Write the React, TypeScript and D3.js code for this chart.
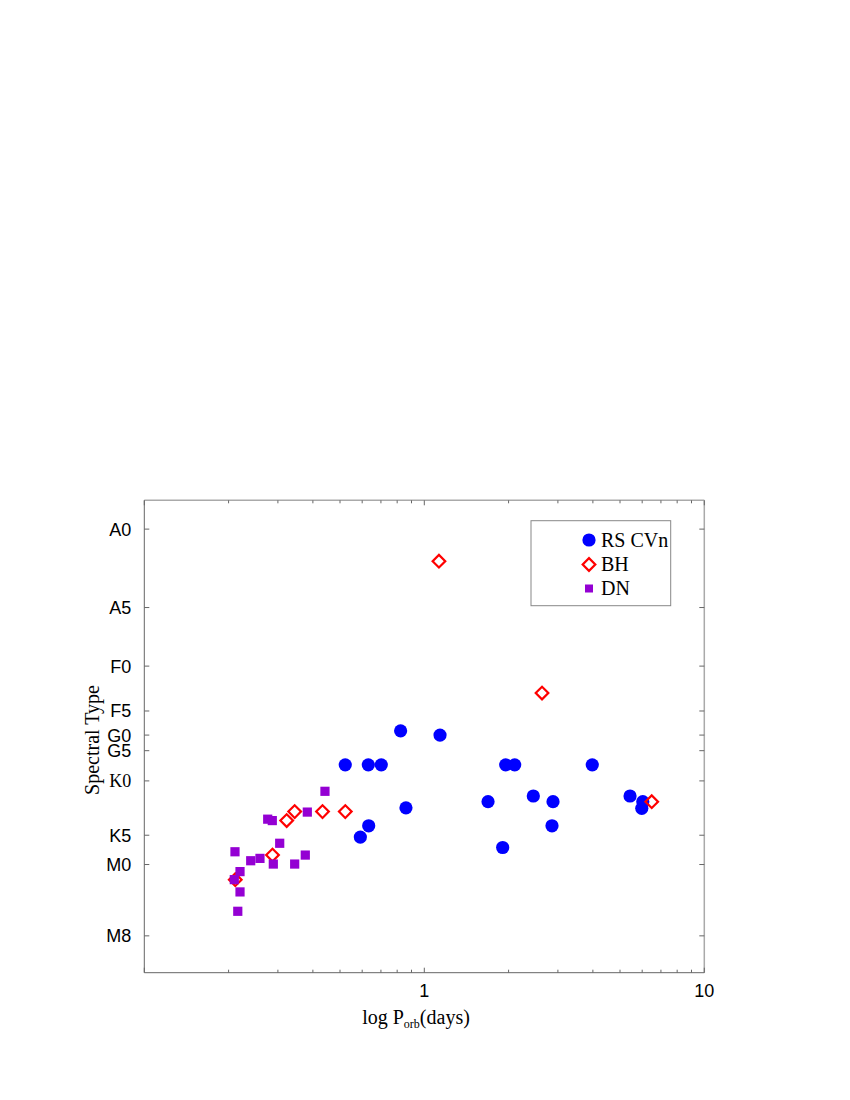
import React from 'react';
import * as d3 from 'd3';

// spectral type ticks, on an ordinate scale (0 = top of frame, 100 = bottom)
const specLabels = ['A0', 'A5', 'F0', 'F5', 'G0', 'G5', 'K0', 'K5', 'M0', 'M8'];
const specValues = [6.1, 22.7, 35.1, 44.6, 49.7, 53.0, 59.4, 70.9, 77.1, 92.2];

// RS CVn: orbital period (days), spectral ordinate
const rsPeriod = [0.823, 1.138, 0.522, 0.631, 0.702, 0.86, 0.633, 0.591, 1.953, 2.103,
  3.98, 1.689, 2.451, 2.882, 2.858, 1.905, 5.43, 6.03, 5.98];
const rsSpec = [48.8, 49.7, 56.0, 56.0, 56.0, 65.1, 68.9, 71.3, 56.0, 56.0,
  56.0, 63.8, 62.6, 63.8, 68.9, 73.5, 62.6, 63.8, 65.2];

// BH
const bhPeriod = [1.128, 2.633, 6.49, 0.2113, 0.287, 0.3225, 0.3444, 0.433, 0.5222];
const bhSpec = [12.9, 40.8, 63.8, 80.3, 75.1, 67.8, 65.9, 65.9, 65.9];

// DN
const dnPeriod = [0.4418, 0.3821, 0.2759, 0.2865, 0.3045, 0.2108, 0.2399, 0.2589,
  0.2889, 0.3444, 0.3758, 0.2197, 0.2096, 0.2197, 0.2157];
const dnSpec = [61.6, 66.0, 67.5, 67.8, 72.6, 74.4, 76.3, 75.8, 77.0, 77.0,
  75.1, 78.6, 80.3, 82.9, 87.0];

const legendLabels = ['RS CVn', 'BH', 'DN'];

const SERIF = '"Liberation Serif", "Times New Roman", serif';
const SANS = '"Liberation Sans", Arial, sans-serif';

export default function App() {
  const left = 144.3, right = 704.3, top = 500.3, bottom = 972.7;

  const x = d3.scaleLog().domain([0.1, 10]).range([left, right]);
  const y = d3.scaleLinear().domain([0, 100]).range([top, bottom]);

  const xTicks = x.ticks();
  const isMajor = (t: number) => Math.abs(Math.log10(t) - Math.round(Math.log10(t))) < 1e-9;

  const diamond = d3.symbol(d3.symbolSquare, 80)();
  const legendDiamond = d3.symbol(d3.symbolSquare, 80)();

  return (
    <svg width={850} height={1100} style={{ position: 'absolute', left: 0, top: 0 }}>
      <rect width={850} height={1100} fill="white" />

      {/* frame */}
      <line x1={left} x2={right} y1={top} y2={top} stroke="#aaa" strokeWidth={1.5} />
      <line x1={right} x2={right} y1={top} y2={bottom} stroke="#aaa" strokeWidth={1.5} />
      <line x1={left} x2={left} y1={top} y2={bottom} stroke="#666" strokeWidth={1} />
      <line x1={left} x2={right} y1={bottom} y2={bottom} stroke="#666" strokeWidth={1} />

      {/* x ticks, top and bottom */}
      {xTicks.map((t, i) => {
        const len = isMajor(t) ? 5 : 3;
        return (
          <g key={'xt' + i}>
            <line x1={x(t)} x2={x(t)} y1={bottom} y2={bottom - len} stroke="#666" />
            <line x1={x(t)} x2={x(t)} y1={top} y2={top + len} stroke="#666" />
          </g>
        );
      })}
      {[1, 10].map(t => (
        <text key={'xl' + t} x={x(t)} y={997} textAnchor="middle"
          fontFamily={SANS} fontSize={18} fill="#000">{t}</text>
      ))}

      {/* y ticks, left and right */}
      {specValues.map((v, i) => (
        <g key={'yt' + i}>
          <line x1={left} x2={left + 5} y1={y(v)} y2={y(v)} stroke="#666" />
          <line x1={right} x2={right - 5} y1={y(v)} y2={y(v)} stroke="#666" />
          <text x={left - 13} y={y(v)} dy="0.36em" textAnchor="end"
            fontFamily={specLabels[i] === 'K0' ? SERIF : SANS} fontSize={18} fill="#000">
            {specLabels[i]}
          </text>
        </g>
      ))}

      {/* axis titles */}
      <text transform="translate(99,740) rotate(-90)" textAnchor="middle"
        fontFamily={SERIF} fontSize={20} fill="#000">Spectral Type</text>
      <text x={416} y={1024} textAnchor="middle" fontFamily={SERIF} fontSize={20} fill="#000">
        log P<tspan fontSize={12} dy={4}>orb</tspan><tspan dy={-4}>(days)</tspan>
      </text>

      {/* RS CVn */}
      {rsPeriod.map((p, i) => (
        <circle key={'rs' + i} cx={x(p)} cy={y(rsSpec[i])} r={6.6} fill="#0000ff" />
      ))}

      {/* BH */}
      {bhPeriod.map((p, i) => (
        <path key={'bh' + i} d={diamond}
          transform={`translate(${x(p)},${y(bhSpec[i])}) rotate(45)`}
          fill="none" stroke="#ff0000" strokeWidth={2.2} />
      ))}

      {/* DN */}
      {dnPeriod.map((p, i) => (
        <rect key={'dn' + i} x={x(p) - 4.6} y={y(dnSpec[i]) - 4.6} width={9.2} height={9.2}
          fill="#9400d3" />
      ))}

      {/* legend */}
      <g>
        <rect x={531} y={520.7} width={139.7} height={85} fill="white" stroke="#888" strokeWidth={1} />
        <circle cx={589} cy={540} r={6.6} fill="#0000ff" />
        <path d={legendDiamond} transform="translate(589,564.5) rotate(45)"
          fill="none" stroke="#ff0000" strokeWidth={2.2} />
        <rect x={585} y={584.5} width={8} height={8} fill="#9400d3" />
        {legendLabels.map((l, i) => (
          <text key={l} x={601} y={546.7 + i * 24.2} fontFamily={SERIF} fontSize={20} fill="#000">{l}</text>
        ))}
      </g>
    </svg>
  );
}
